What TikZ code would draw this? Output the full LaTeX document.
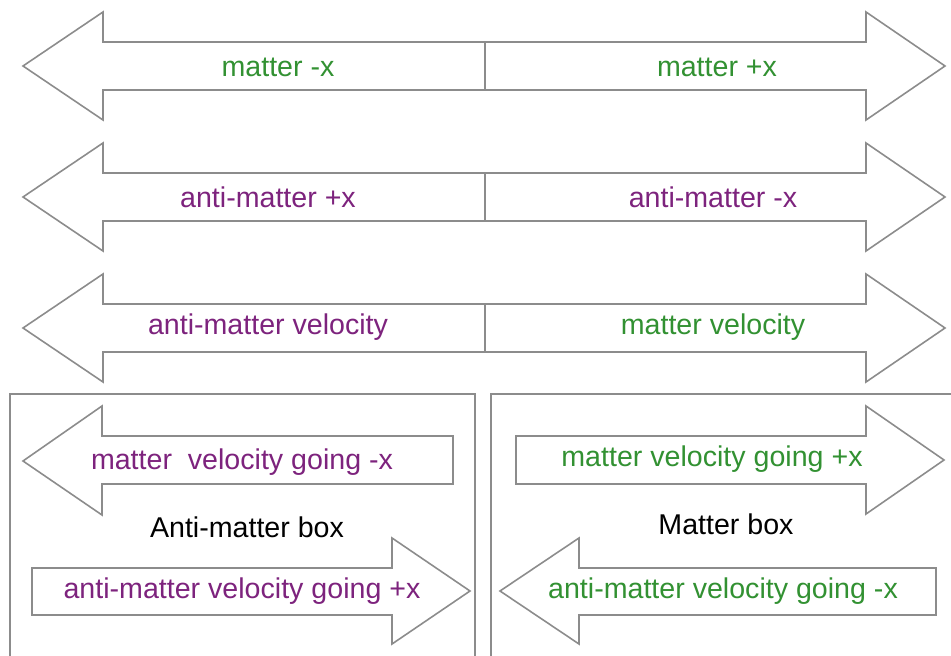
\documentclass[tikz,border=0pt]{standalone}
\usepackage{fontspec}
\setmainfont{Liberation Sans}
\definecolor{linegray}{RGB}{140,140,140}
\definecolor{mattergreen}{RGB}{50,145,50}
\definecolor{antipurple}{RGB}{125,35,125}
\usetikzlibrary{positioning}
\tikzset{
  outline/.style={draw=linegray,line width=0.8pt,line join=miter},
  label/.style={font=\fontsize{14.3}{17}\selectfont,inner sep=0pt},
  matter/.style={label,text=mattergreen},
  anti/.style={label,text=antipurple},
}

\begin{document}
\begin{tikzpicture}[x=0.5pt,y=-0.5pt]
          \useasboundingbox (0,0) rectangle (951,656);
          % three double arrows
          \draw[outline] (23,66) -- (103,12) -- (103,42) -- (866,42) -- (866,12) -- (945,66) -- (866,120) -- (866,90) -- (103,90) -- (103,120) -- cycle;
          \draw[outline] (485,42) -- (485,90);
          \draw[outline] (23,197) -- (103,143) -- (103,173) -- (866,173) -- (866,143) -- (945,197) -- (866,251) -- (866,221) -- (103,221) -- (103,251) -- cycle;
          \draw[outline] (485,173) -- (485,221);
          \draw[outline] (23,328) -- (103,274) -- (103,304) -- (866,304) -- (866,274) -- (945,328) -- (866,382) -- (866,352) -- (103,352) -- (103,382) -- cycle;
          \draw[outline] (485,304) -- (485,352);
          \node[matter] (mneg) at (278,67) {matter -x};
          \node[matter] (mpos) at (717,67) {matter +x};
          \node[anti] (apos) at (268,197) {anti-matter +x};
          \node[anti] (aneg) at (713,197) {anti-matter -x};
          \node[anti] (avel) at (268,327) {anti-matter velocity};
          \node[matter] (mvel) at (713,327) {matter velocity};
          % boxes
          \draw[outline] (10,662) -- (10,394) -- (475,394) -- (475,662);
          \draw[outline] (491,662) -- (491,394) -- (960,394);
          \draw[outline] (23,461) -- (102,406) -- (102,436) -- (453,436) -- (453,484) -- (102,484) -- (102,515) -- cycle;
          \draw[outline] (32,568) -- (392,568) -- (392,538) -- (470,591) -- (392,644) -- (392,615) -- (32,615) -- cycle;
          \draw[outline] (516,436) -- (866,436) -- (866,406) -- (944,460) -- (866,514) -- (866,484) -- (516,484) -- cycle;
          \draw[outline] (500,591) -- (579,538) -- (579,568) -- (936,568) -- (936,615) -- (579,615) -- (579,644) -- cycle;
          \node[anti] (mgoneg) at (242,462) {matter\ \ velocity going -x};
          \node[label] (abox) at (247,527) {Anti-matter box};
          \node[anti] (agopos) at (242,591) {anti-matter velocity going +x};
          \node[matter] (mgopos) at (712,459) {matter velocity going +x};
          \node[label] (mbox) at (726,524) {Matter box};
          \node[matter] (agoneg) at (723,591) {anti-matter velocity going -x};
        \end{tikzpicture}
\end{document}
